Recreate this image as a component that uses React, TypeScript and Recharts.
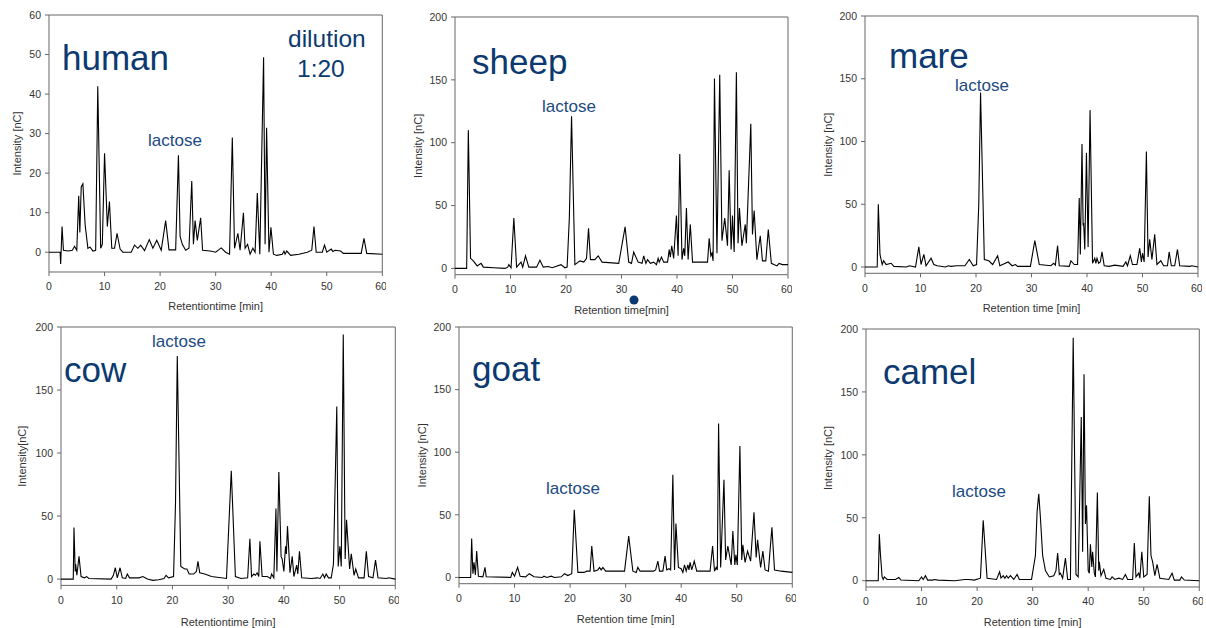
import { LineChart, Line, XAxis, YAxis, ReferenceArea } from 'recharts';

// retention time ticks, shared by all six panels
const xTicks = [0, 10, 20, 30, 40, 50, 60];
const humanTicks = [0, 10, 20, 30, 40, 50, 60];
const nCTicks = [0, 50, 100, 150, 200];

// [retention time (min), intensity (nC)]
const human: [number, number][] = [
  [0, 0], [2.0, 0], [2.1, -3], [2.35, 6.5], [2.6, 0.5], [3.5, 0.3], [4.2, 0.5], [4.6, 1.5], [5.0, 0.5],
  [5.35, 14.3], [5.55, 5], [5.8, 16.5], [6.1, 17.3], [6.5, 7], [7.0, 1], [7.4, 1.3], [7.9, 0.3], [8.4, 0.5],
  [8.78, 42], [9.3, 1], [9.6, 2], [10.0, 25], [10.5, 6.5], [10.88, 12.8], [11.3, 1], [11.8, 1], [12.25, 4.8],
  [12.8, 0.8], [13.3, 0], [14.8, 0], [15.4, 1.8], [16.0, 1.0], [16.5, 1.8], [17.2, 0.4], [18.05, 3.2],
  [18.7, 1], [19.4, 3], [20.2, 0.5], [21.0, 8], [21.6, 0.6], [22.8, 0.6], [23.3, 24.5], [23.6, 4], [24.0, 2],
  [24.6, 0.5], [25.2, 1], [25.7, 18], [26.0, 2], [26.3, 8], [26.7, 3], [27.3, 8.7], [27.65, 0.5], [29, 0.3],
  [30, 0], [31, 1.1], [31.8, 0], [32.5, -0.5], [33.0, 29], [33.4, 1], [34.0, 4.8], [34.4, 0.5], [35.0, 10],
  [35.3, 1], [35.75, 2], [36.2, -0.5], [36.7, 1], [37.1, 0], [37.5, 15], [37.95, -0.5], [38.63, 49.3],
  [38.9, 2], [39.17, 31.5], [39.6, 0], [39.95, 6.3], [40.4, -0.5], [41, -0.8], [42.0, -0.5], [42.3, 0.3],
  [42.5, -0.5], [42.8, 0.3], [43.5, -0.8], [45, -0.5], [46.5, 0], [47.3, 0.5], [47.7, 6.5], [48.1, 0],
  [49.2, 0], [49.6, 1.8], [50, 0], [50.8, 0.8], [51.1, 0.2], [51.5, 0.5], [52.5, 0.3], [53, -0.3],
  [56.2, -0.3], [56.7, 3.5], [57.2, -0.3], [60, -0.5],
];

const sheep: [number, number][] = [
  [0, 0], [2.1, 0], [2.4, 110], [2.8, 8], [3.3, 6], [4.0, 2], [4.7, 4], [5.1, 1], [7, 0.5], [9, 0], [9.5, 1],
  [9.7, 3], [10.1, 0.5], [10.6, 40], [11.1, 1], [11.9, 5], [12.2, 1], [12.7, 10], [13.3, 1], [14.7, 1],
  [15.3, 6.5], [15.9, 1], [16.8, 1.5], [17.5, 0.5], [19.1, 3], [19.8, 0.5], [20.2, 1], [20.6, 40], [21.0, 121],
  [21.6, 3], [22.5, 6], [23.2, 5], [23.7, 8], [24.06, 32], [24.4, 7], [25.2, 7], [25.8, 10], [26.5, 5],
  [29.5, 4], [30.65, 33], [31.3, 5], [31.8, 4], [32.2, 13], [33, 5], [33.7, 4], [34.0, 10], [34.4, 4],
  [34.7, 7], [35.2, 4], [35.8, 5], [36.3, 3], [36.6, 8], [36.8, 5], [37.2, 9], [37.6, 5], [38.3, 5],
  [38.6, 15], [38.8, 9], [39.05, 18], [39.4, 8], [39.9, 42], [40.2, 10], [40.5, 91], [40.9, 7], [41.2, 16],
  [41.4, 10], [41.7, 48], [42.0, 7], [42.4, 35], [42.8, 5], [43.5, 5], [45.5, 5], [45.8, 24], [46.1, 10],
  [46.3, 12], [46.5, 6], [46.75, 151], [47.2, 12], [47.7, 154], [48.1, 22], [48.6, 40], [49.1, 18],
  [49.4, 78], [49.75, 15], [50.0, 42], [50.3, 13], [50.7, 156], [51.0, 20], [51.25, 48], [51.7, 18],
  [52.3, 35], [52.5, 20], [53.3, 115], [53.6, 27], [53.9, 46], [54.4, 7], [55.0, 26], [55.4, 6], [56.0, 6],
  [56.45, 31], [57, 4], [58, 2], [58.4, 4], [59, 3], [60, 3],
];

const mare: [number, number][] = [
  [0, 0], [2.2, 0], [2.4, 50], [2.7, 10], [3.1, 2], [3.36, 5], [3.8, 2], [4.7, 3], [5.2, 0.5], [7.5, 0],
  [8, 1], [9.1, 0], [9.7, 16], [10.1, 2], [10.6, 10], [11.0, 1], [11.9, 7], [12.4, 2], [13, 1], [14.5, 0],
  [15, 1], [15.5, 0.5], [16.5, 1], [18, 1], [18.8, 6], [19.5, 1], [20.1, 2], [20.5, 50], [20.82, 139],
  [21.5, 6], [22.3, 5], [23, 2], [23.9, 9], [24.3, 1], [25.8, 4], [26.5, 1], [27.1, 2], [27.5, 0.5],
  [29.8, 0.5], [30.6, 21], [31.4, 2], [33.5, 1], [34, 3], [34.3, 1.5], [34.7, 17], [35, 1], [36.8, 0.5],
  [37.1, 5], [37.7, 2], [38.3, 2], [38.6, 55], [38.8, 10], [39.1, 98], [39.3, 33], [39.4, 35], [39.6, 14],
  [39.9, 91], [40.2, 16], [40.55, 125], [41.0, 3], [41.4, 7], [41.6, 3], [41.8, 7], [42.1, 3], [42.4, 4],
  [42.7, 12], [43.1, 1], [44, 0.5], [45, 1.5], [46.5, 0.5], [47.0, 4], [47.3, 1], [47.8, 9], [48.2, 2],
  [49.0, 2], [49.5, 15], [49.8, 4], [50.0, 11], [50.3, 4], [50.7, 92], [51.0, 8], [51.3, 22], [51.7, 6],
  [52.2, 26], [52.6, 2], [53.3, 5], [53.8, 1], [54.5, 1], [54.8, 12], [55.2, 1], [55.8, 1], [56.3, 14],
  [56.7, 1], [58.5, 0.5], [58.9, 1], [60, 0],
];

const cow: [number, number][] = [
  [0, 0], [2.2, 0], [2.33, 41], [2.55, 6], [2.63, 12], [2.85, 3], [3.23, 18], [3.6, 2], [4.2, 1], [4.6, 2],
  [5, 0.5], [9, 0], [9.4, 3], [9.75, 9], [10.1, 1], [10.6, 9], [11, 1], [11.6, 0.5], [11.9, 4], [12.3, 1],
  [14, 1], [14.7, 2], [15.5, 0], [16.5, -1], [17.5, -0.5], [18.5, 0.5], [18.85, 3], [19.3, 1], [20.2, 2],
  [20.55, 60], [20.87, 177], [21.5, 10], [22.2, 8], [22.6, 8], [23.0, 4], [23.8, 4], [24.3, 6], [24.58, 14],
  [24.9, 5], [25.8, 4], [27, 2], [29.7, 0.5], [30.56, 86], [31.3, 2], [32.3, 0.5], [33.5, 1], [33.9, 32],
  [34.2, 2], [34.6, 4], [34.9, 3], [35.2, 5], [35.5, 2], [35.7, 30], [36.1, 2], [37, 2], [37.6, 0.5],
  [37.8, 4], [38.2, 1], [38.58, 56], [38.75, 6], [39.1, 85], [39.5, 18], [39.7, 16], [40, 6], [40.3, 26],
  [40.45, 20], [40.65, 42], [41.1, 5], [41.5, 18], [41.8, 2], [42.3, 11], [42.5, 4], [42.8, 22], [43.2, 1],
  [45, 0.5], [46, 1], [46.5, 0.5], [47.0, 4], [47.3, 1], [47.6, 4], [48, 1], [48.5, 1], [48.9, 12],
  [49.5, 137], [49.75, 10], [50.05, 26], [50.3, 10], [50.66, 194], [51.0, 16], [51.25, 47], [51.8, 8],
  [52.1, 20], [52.6, 3], [52.9, 8], [53.4, 1], [54.4, 1], [54.8, 22], [55.2, 2], [56, 1], [56.45, 15],
  [56.9, 1], [58.4, 0.5], [58.8, 1], [60, 0],
];

const goat: [number, number][] = [
  [0, 0], [2.1, 0], [2.28, 31], [2.5, 3], [2.7, 12], [2.95, 2], [3.18, 21], [3.5, 1], [4.3, 0.5],
  [4.68, 8], [4.9, 0.5], [9.3, 0], [9.6, 4], [10, 1], [10.55, 8], [11.0, 1], [12, 0.5], [12.65, 3],
  [13.5, 0.5], [15, 0], [15.3, 1], [15.8, 0], [16.6, 1], [17.2, 0], [18.4, 0.5], [19.0, 3], [19.6, 1.5],
  [20.3, 3], [20.75, 54], [21.4, 4], [22.5, 4], [23.0, 5], [23.6, 5], [23.9, 25], [24.3, 5], [25, 6],
  [25.3, 8], [25.6, 6], [25.9, 8], [26.4, 5], [29.8, 5], [30.55, 33], [31.3, 5], [31.9, 4], [32.2, 8],
  [32.6, 5], [35, 5], [35.4, 6], [35.8, 13], [36.1, 5], [36.7, 5], [37.1, 17], [37.4, 6], [37.8, 7],
  [38.1, 6], [38.5, 82], [38.8, 6], [39.05, 43], [39.5, 8], [40, 7], [40.3, 4], [40.6, 10], [40.9, 5],
  [41.2, 10], [41.4, 6], [41.6, 12], [41.9, 6], [42.35, 13], [42.8, 5], [45.2, 5], [45.65, 25], [46.0, 5],
  [46.3, 8], [46.5, 6], [46.73, 123], [47.1, 8], [47.7, 78], [48.0, 14], [48.4, 25], [49.0, 10], [49.3, 37],
  [49.65, 10], [49.85, 18], [50.1, 10], [50.57, 105], [50.9, 14], [51.1, 26], [51.5, 12], [51.95, 21],
  [52.5, 13], [53.1, 52], [53.5, 16], [53.75, 30], [54.3, 8], [54.7, 21], [55.1, 6], [55.7, 5], [56.33, 40],
  [56.8, 6], [58, 5], [60, 4],
];

const camel: [number, number][] = [
  [0, 0], [2.2, 0], [2.4, 37], [2.58, 22], [2.9, 3], [3.1, 1], [3.3, 3], [3.8, 1], [5.3, 1], [5.9, 2.5],
  [6.3, 0.5], [9.5, 0], [10.0, 3], [10.3, 1], [10.7, 4], [11.1, 0.5], [12, 0.5], [12.3, 1], [13, 0.5],
  [16, 0], [17.8, 1], [18.5, 1], [19.5, 0.5], [20.6, 2], [21.1, 48], [21.8, 2], [23.5, 1], [24.05, 7],
  [24.3, 2], [24.7, 4], [25, 2], [25.3, 4], [25.6, 2], [26, 4], [26.6, 1], [27.2, 5], [27.6, 1], [29.8, 1],
  [30.5, 20], [30.8, 55], [31.1, 69], [31.4, 50], [31.8, 20], [32.3, 8], [33, 3], [33.8, 4], [34.2, 8],
  [34.5, 22], [34.8, 5], [35.0, 6], [35.4, 2], [35.9, 18], [36.3, 1], [36.8, 1], [37.3, 193], [37.8, 5],
  [38.2, 3], [38.75, 130], [39.0, 23], [39.25, 164], [39.5, 45], [39.7, 60], [40.0, 8], [40.2, 6],
  [40.4, 29], [40.65, 11], [40.8, 23], [41.1, 6], [41.3, 3], [41.65, 70], [41.9, 8], [42.0, 15], [42.3, 4],
  [42.8, 9], [43.2, 2], [44, 1], [44.3, 3], [44.8, 1], [45.5, 2], [46.2, 1], [46.7, 5], [47.1, 1], [48, 1],
  [48.3, 30], [48.6, 3], [49.1, 6], [49.3, 2], [49.65, 23], [50, 3], [50.6, 5], [51.0, 67], [51.3, 20],
  [51.6, 15], [52.0, 4], [52.4, 13], [52.9, 2], [54.5, 1], [55.1, 6], [55.5, 0.5], [56.5, 0.5], [56.8, 3],
  [57.3, 0.5], [60, 0],
];

const FONT = '"Liberation Sans", Arial, sans-serif';
const NAVY = '#0c3a70';
const LACTOSE = '#1d4a82';
const YW = 50;
const MT = 10;
const XH = 50;
const MR = 4;

// plot-area box of each panel (page pixels) and where the axis titles sit
const panels = [
  { points: human, x: 48.7, y: 15, w: 333.3, h: 257, yMax: 60, yTicks: humanTicks, yTitle: 'Intensity [nC]', yTitleX: 17, xTitle: 'Retentiontime [min]', xBase: 310 },
  { points: sheep, x: 455, y: 17.3, w: 333, h: 257.7, yMax: 200, yTicks: nCTicks, yTitle: 'Intensity [nC]', yTitleX: 418, xTitle: 'Retention time[min]', xBase: 314 },
  { points: mare, x: 865, y: 16, w: 333, h: 257.3, yMax: 200, yTicks: nCTicks, yTitle: 'Intensity [nC]', yTitleX: 828, xTitle: 'Retention time [min]', xBase: 312 },
  { points: cow, x: 60.7, y: 327.3, w: 334.3, h: 258.4, yMax: 200, yTicks: nCTicks, yTitle: 'Intensity[nC]', yTitleX: 22, xTitle: 'Retentiontime [min]', xBase: 626 },
  { points: goat, x: 459, y: 327.3, w: 333.3, h: 256.7, yMax: 200, yTicks: nCTicks, yTitle: 'Intensity [nC]', yTitleX: 422, xTitle: 'Retention time [min]', xBase: 623 },
  { points: camel, x: 865.7, y: 328.7, w: 333.3, h: 258, yMax: 200, yTicks: nCTicks, yTitle: 'Intensity [nC]', yTitleX: 828, xTitle: 'Retention time [min]', xBase: 626 },
];

function Panel({ p }: { p: (typeof panels)[number] }) {
  const data = p.points.map(([t, v]) => ({ t, v }));
  const left = p.x - YW;
  const top = p.y - MT;
  const width = YW + p.w + MR;
  const height = MT + p.h + XH;
  const tickStyle = { fontSize: 10.5, fill: '#333', fontFamily: FONT };
  return (
    <div style={{ position: 'absolute', left, top }}>
      <LineChart width={width} height={height} data={data} margin={{ top: MT, right: MR, bottom: 0, left: 0 }}>
        <XAxis
          type="number"
          dataKey="t"
          domain={[0, 60]}
          ticks={xTicks}
          height={XH}
          tickSize={4}
          tickMargin={7}
          axisLine={false}
          tickLine={{ stroke: '#666' }}
          tick={tickStyle}
          label={{ value: p.xTitle, position: 'insideBottom', offset: top + height - p.xBase, fontSize: 11, fill: '#333', fontFamily: FONT }}
        />
        <YAxis
          type="number"
          domain={[-5, p.yMax]}
          ticks={p.yTicks}
          width={YW}
          tickSize={4}
          tickMargin={4}
          axisLine={false}
          tickLine={{ stroke: '#666' }}
          tick={tickStyle}
          label={{ value: p.yTitle, angle: -90, position: 'insideLeft', offset: p.yTitleX - left, fontSize: 11, fill: '#333', fontFamily: FONT, style: { textAnchor: 'middle' } }}
        />
        <ReferenceArea x1={0} x2={60} y1={-5} y2={p.yMax} fill="none" stroke="#666" strokeWidth={1} />
        <Line type="linear" dataKey="v" stroke="#000" strokeWidth={1.1} dot={false} isAnimationActive={false} />
      </LineChart>
    </div>
  );
}

export default function App() {
  const big = { fontSize: 35, fill: NAVY, fontFamily: FONT };
  const small = { fontSize: 17, fill: LACTOSE, fontFamily: FONT };
  return (
    <div style={{ position: 'absolute', left: 0, top: 0, width: 1206, height: 628, overflow: 'hidden', background: '#fff' }}>
      {panels.map((p, i) => (
        <Panel key={i} p={p} />
      ))}
      <svg width={1206} height={628} style={{ position: 'absolute', left: 0, top: 0, pointerEvents: 'none' }}>
        <text x={62} y={70} {...big}>human</text>
        <text x={288} y={47} fontSize={24.5} fill={NAVY} fontFamily={FONT}>dilution</text>
        <text x={297} y={77} fontSize={24.5} fill={NAVY} fontFamily={FONT}>1:20</text>
        <text x={148} y={146} {...small}>lactose</text>
        <text x={472} y={74} {...big}>sheep</text>
        <text x={542} y={112} {...small}>lactose</text>
        <circle cx={634} cy={300} r={4.5} fill={NAVY} />
        <text x={889} y={68} {...big}>mare</text>
        <text x={955} y={91} {...small}>lactose</text>
        <text x={64} y={382} {...big}>cow</text>
        <text x={152} y={347} {...small}>lactose</text>
        <text x={472} y={381} {...big}>goat</text>
        <text x={546} y={494} {...small}>lactose</text>
        <text x={883} y={384} {...big}>camel</text>
        <text x={952} y={497} {...small}>lactose</text>
      </svg>
    </div>
  );
}
